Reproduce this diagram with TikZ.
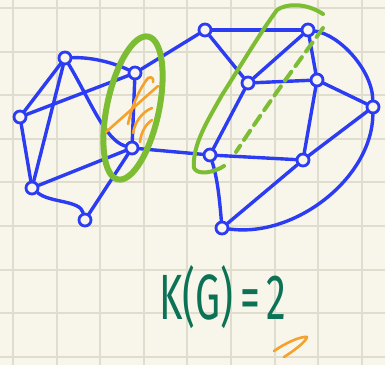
\documentclass[tikz,border=0pt]{standalone}
\usepackage{fontspec}
\setmainfont{Fira Sans}
\definecolor{bg}{HTML}{F8F6EA}
\definecolor{gridc}{HTML}{DEDDCE}
\definecolor{pen}{HTML}{2B3CF2}
\definecolor{mk}{HTML}{7CBD34}
\definecolor{og}{HTML}{F5A12B}
\definecolor{tg}{HTML}{0B7256}
\tikzset{
  vtx/.style={circle,draw=pen,fill=bg,line width=2.8pt,minimum size=12pt,inner sep=0pt},
  ed/.style={draw=pen,line width=3.4pt,line cap=round,line join=round},
  hl/.style={draw=mk,line width=5pt,line cap=round,line join=round},
  hatch/.style={draw=og,line width=2.6pt,line cap=round,line join=round}
}
\begin{document}
\begin{tikzpicture}[x=1pt,y=-1pt]
\useasboundingbox (0,0) rectangle (385,365);
\fill[bg] (0,0) rectangle (385,365);
\foreach \k in {0,...,8}{
  \draw[gridc,line width=2pt] ({13+43.6*\k},0) -- ({13+43.6*\k},365);
  \draw[gridc,line width=2pt] (0,{8+43.6*\k}) -- (385,{8+43.6*\k});
}
% vertices
\node[vtx] (A) at (65,58) {};
\node[vtx] (B) at (135,73) {};
\node[vtx] (C) at (20,117) {};
\node[vtx] (D) at (132,148) {};
\node[vtx] (E) at (32,188) {};
\node[vtx] (F) at (85,220) {};
\node[vtx] (G) at (205,30) {};
\node[vtx] (H) at (308,30) {};
\node[vtx] (I) at (248,83) {};
\node[vtx] (J) at (317,80) {};
\node[vtx] (K) at (373,107) {};
\node[vtx] (L) at (210,155) {};
\node[vtx] (M) at (303,160) {};
\node[vtx] (N) at (222,228) {};
% edges
\path[ed] (A) .. controls (90,57) and (112,62) .. (B);
\path[ed] (A) .. controls (90,100) and (105,140) .. (D);
\path[ed] (A) -- (C);
\path[ed] (A) -- (E);
\path[ed] (C) -- (B);
\path[ed] (C) -- (E);
\path[ed] (E) -- (D);
\path[ed] (E) .. controls (50,203) and (80,200) .. (F);
\path[ed] (F) -- (D);
\path[ed] (B) -- (D);
\path[ed] (B) -- (G);
\path[ed] (D) -- (L);
\path[ed] (G) -- (H);
\path[ed] (G) -- (I);
\path[ed] (H) -- (I);
\path[ed] (I) -- (J);
\path[ed] (H) -- (J);
\path[ed] (J) -- (K);
\path[ed] (I) -- (L);
\path[ed] (J) -- (M);
\path[ed] (L) -- (M);
\path[ed] (M) -- (K);
\path[ed] (N) -- (M);
\path[ed] (H) .. controls (340,35) and (372,70) .. (K);
\path[ed] (L) .. controls (218,180) and (220,205) .. (N);
\path[ed] (N) .. controls (295,238) and (372,178) .. (K);
% green highlights
\draw[hl,line width=6pt] (133,108) ellipse [x radius=26, y radius=73, rotate=-12];
\draw[hl,line width=4pt] (323,14) .. controls (305,2) and (285,4) .. (277,10)
  .. controls (262,30) and (238,70) .. (222,95)
  .. controls (208,120) and (192,145) .. (194,168)
  .. controls (198,176) and (215,172) .. (224,166);
\draw[hl,line width=4pt,dash pattern=on 11pt off 7pt] (323,28) .. controls (300,60) and (270,100) .. (236,152);
% orange hatching
\draw[hatch] (106,132) -- (158,86);
\draw[hatch] (128,124) .. controls (132,105) and (140,88) .. (148,78) .. controls (152,76) and (154,79) .. (153,82);
\draw[hatch] (133,133) .. controls (135,122) and (142,112) .. (152,108);
\draw[hatch] (140,142) .. controls (141,132) and (146,124) .. (152,120);
% text
\node[text=tg,font=\fontsize{64}{64}\selectfont,xscale=0.62,inner sep=0pt] (T) at (223,297) {K(G)\,=\,2};
\draw[hatch] (274,351) .. controls (284,344) and (300,336) .. (307,337) .. controls (306,342) and (292,352) .. (284,357);
\end{tikzpicture}
\end{document}
